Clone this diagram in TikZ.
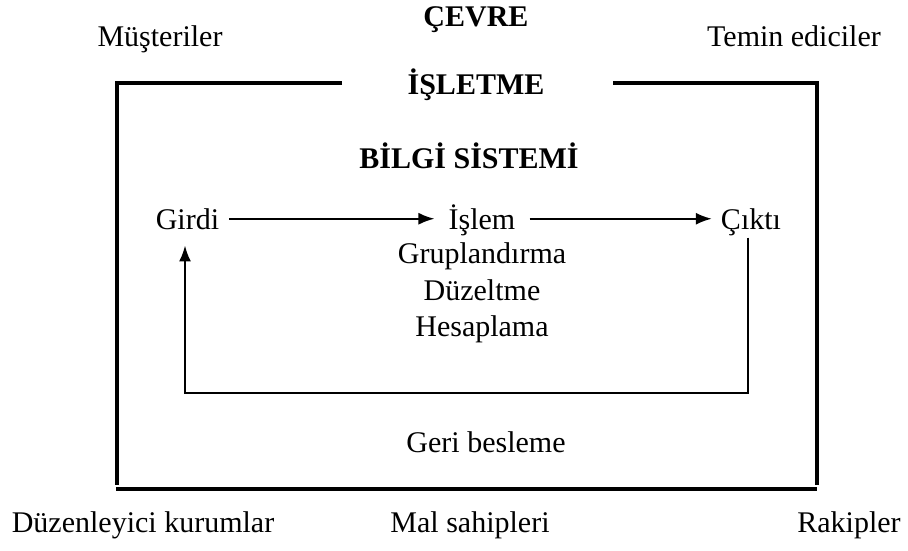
\documentclass[tikz,border=0pt]{standalone}
\usepackage{fontspec}
\setmainfont{Liberation Serif}
\usetikzlibrary{arrows.meta}
\begin{document}
\begin{tikzpicture}[x=1pt,y=-1pt,
  lbl/.style={anchor=base,inner sep=0pt,font=\fontsize{30}{36}\selectfont},
  ttl/.style={anchor=base,inner sep=0pt,font=\fontsize{30}{36}\selectfont\bfseries},
  frame/.style={line width=3.5pt},
  flow/.style={line width=1.9pt,-{Latex[length=16pt,width=12pt]}}]
\useasboundingbox (0,0) rectangle (908,551);

% environment
\node[ttl] (cevre) at (476,27) {ÇEVRE};
\node[lbl] (musteri) at (160,47) {Müşteriler};
\node[lbl] (temin) at (794,47) {Temin ediciler};
\node[lbl] (duzen) at (143,532) {Düzenleyici kurumlar};
\node[lbl] (mal) at (470,532) {Mal sahipleri};
\node[lbl] (rakip) at (849,532) {Rakipler};

% enterprise frame
\node[ttl] (isletme) at (476,95) {İŞLETME};
\coordinate (tl) at (117,83);
\coordinate (tr) at (817,83);
\coordinate (bl) at (117,485);
\coordinate (br) at (817,485);
\coordinate (bbl) at (116,489);
\coordinate (bbr) at (817,489);
\draw[frame] (342,83) -- (tl) -- (bl);
\draw[frame] (613,83) -- (tr) -- (br);
\draw[frame] (bbl) -- (bbr);

% information system
\node[ttl] (bilgi) at (469,168) {BİLGİ SİSTEMİ};
\node[lbl] (girdi) at (187.5,229) {Girdi};
\node[lbl] (islem) at (482,229) {İşlem};
\node[lbl] (cikti) at (751,229) {Çıktı};
\node[lbl] (grup) at (482,263) {Gruplandırma};
\node[lbl] (duzelt) at (482,300) {Düzeltme};
\node[lbl] (hesap) at (482,336) {Hesaplama};
\node[lbl] (geri) at (486,452) {Geri besleme};

\draw[flow] ([xshift=10pt]girdi.east) -- ([xshift=-14pt]girdi.east -| islem.west);
\draw[flow] ([xshift=14pt]islem.east |- girdi.east) -- ([xshift=-9pt]girdi.east -| cikti.west);

% feedback loop
\coordinate (fbr) at (748,393);
\coordinate (fbl) at (185,393);
\draw[flow] ([yshift=-2pt]cikti.south -| fbr) -- (fbr) -- (fbl) -- ([yshift=-16pt]girdi.south -| fbl);
\end{tikzpicture}
\end{document}
